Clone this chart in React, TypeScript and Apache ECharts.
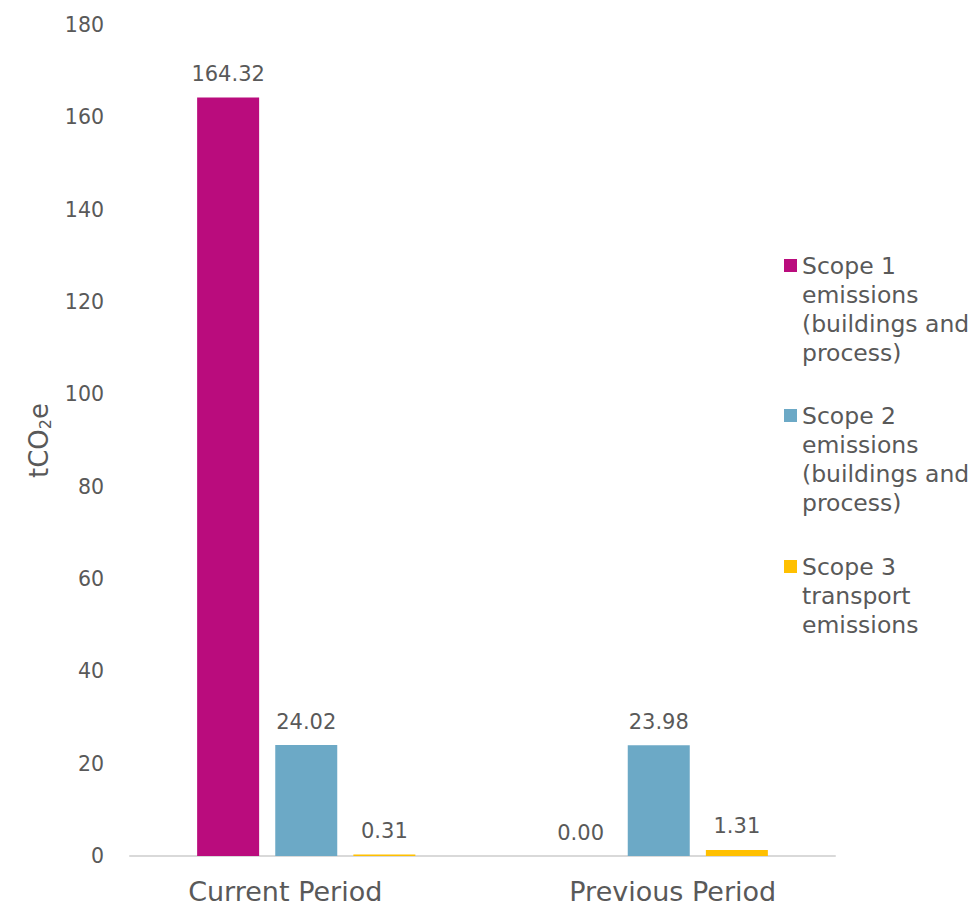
import React, { useEffect, useRef } from "react";
import * as echarts from "echarts";

const categories = ["Current Period", "Previous Period"];
const seriesNames = [
  "Scope 1 emissions (buildings and process)",
  "Scope 2 emissions (buildings and process)",
  "Scope 3 transport emissions",
];
const legendLabels = [
  "Scope 1\nemissions\n(buildings and\nprocess)",
  "Scope 2\nemissions\n(buildings and\nprocess)",
  "Scope 3\ntransport\nemissions",
];
const scope1 = [164.32, 0.0];
const scope2 = [24.02, 23.98];
const scope3 = [0.31, 1.31];
const colors = ["#BA0C7D", "#6CA9C6", "#FFC000"];
const seriesValues = [scope1, scope2, scope3];

const FONT = "DejaVu Sans";
const TXT = "#595959";

export default function App() {
  const ref = useRef<HTMLDivElement>(null);
  useEffect(() => {
    if (!ref.current) return;
    const chart = echarts.init(ref.current, undefined, { renderer: "svg" });
    const lh = 29;
    const mkLegend = (i: number, top: number) => {
      const lines = legendLabels[i].split("\n").length;
      const H = (lines - 1) * lh + 13;
      return {
        left: 784,
        top,
        padding: 0,
        orient: "vertical",
        itemWidth: 13,
        itemHeight: H,
        symbolKeepAspect: false,
        data: [
          {
            name: seriesNames[i],
            icon: `path://M0,0H13V13H0Z M0,${H - 0.01}H0.01V${H}H0Z`,
          },
        ],
        formatter: () => legendLabels[i],
        textStyle: {
          color: TXT,
          fontFamily: FONT,
          fontSize: 23.5,
          lineHeight: lh,
        },
      };
    };
    chart.setOption({
      animation: false,
      textStyle: { fontFamily: FONT },
      grid: { left: 130, top: 25, width: 705, height: 831 },
      legend: [mkLegend(0, 251), mkLegend(1, 401), mkLegend(2, 552)],
      xAxis: {
        type: "category",
        data: categories,
        axisLine: { lineStyle: { color: "#D9D9D9", width: 2 } },
        axisTick: { show: false },
        axisLabel: {
          interval: 0,
          margin: 22,
          formatter: (v: string) =>
            v === categories[0] ? `{l|${v}}` : `{r|${v}}`,
          rich: {
            l: { color: TXT, fontFamily: FONT, fontSize: 27, padding: [0, 42, 0, 0] },
            r: { color: TXT, fontFamily: FONT, fontSize: 27, padding: [0, 0, 0, 28] },
          },
        },
      },
      yAxis: {
        type: "value",
        min: 0,
        max: 180,
        interval: 20,
        splitLine: { show: false },
        axisLine: { show: false },
        axisTick: { show: false },
        axisLabel: { color: TXT, fontFamily: FONT, fontSize: 20.5, margin: 26 },
        name: "{a|tCO}{b|2}{a|e}",
        nameLocation: "middle",
        nameGap: 71,
        nameRotate: 90,
        nameTextStyle: {
          rich: {
            a: { color: TXT, fontFamily: FONT, fontSize: 26, lineHeight: 30 },
            b: {
              color: TXT,
              fontFamily: FONT,
              fontSize: 16,
              lineHeight: 15,
              verticalAlign: "bottom",
            },
          },
        },
      },
      series: seriesNames.map((name, i) => ({
        name,
        type: "bar",
        data: seriesValues[i],
        barWidth: 62,
        barGap: "26%",
        itemStyle: { color: colors[i] },
        label: {
          show: true,
          position: "top",
          distance: 13,
          color: TXT,
          fontFamily: FONT,
          fontSize: 21,
          formatter: (p: any) => Number(p.value).toFixed(2),
        },
      })),
    });
    return () => chart.dispose();
  }, []);
  return (
    <div
      ref={ref}
      style={{ position: "fixed", left: 0, top: 0, width: 979, height: 908, background: "#fff" }}
    />
  );
}
